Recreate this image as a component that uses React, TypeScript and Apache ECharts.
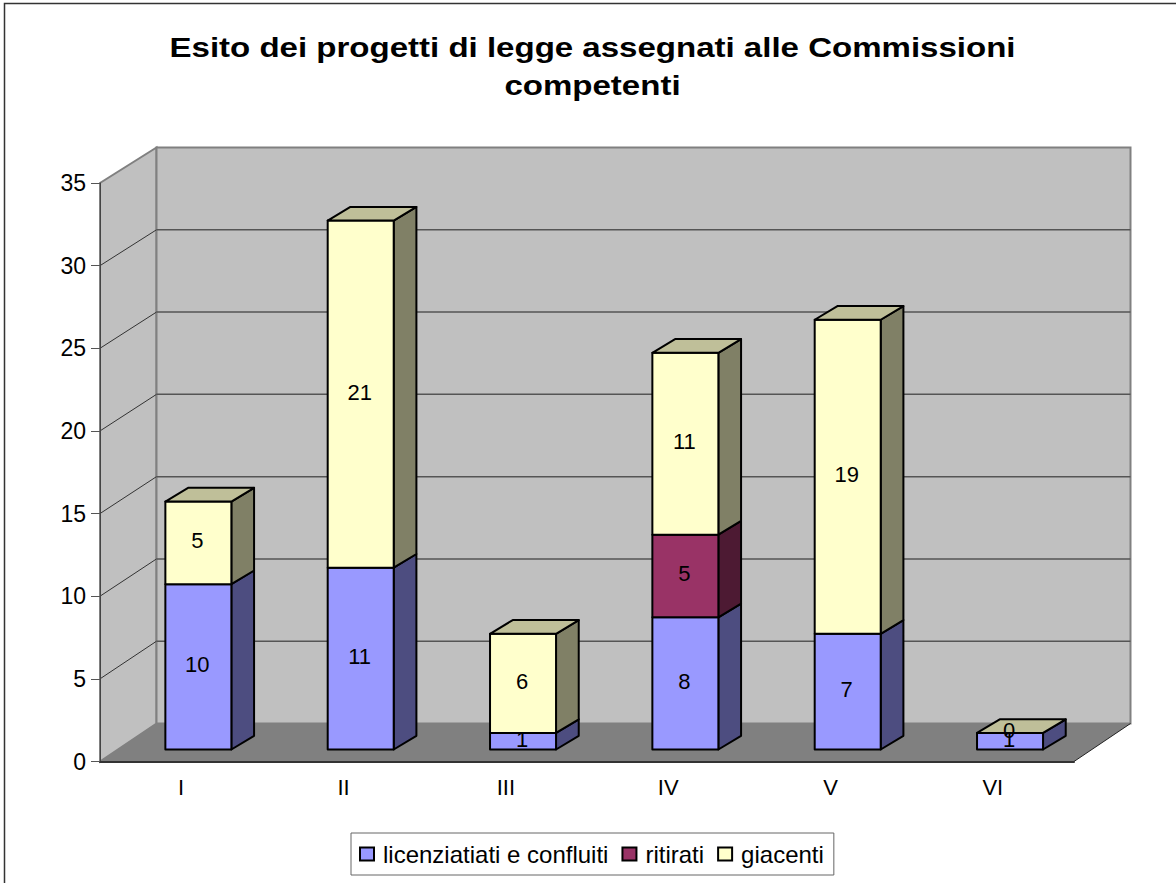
import React, { useEffect, useRef } from "react";
import * as echarts from "echarts";

const categories = ["I", "II", "III", "IV", "V", "VI"];
const licenziati = [10, 11, 1, 8, 7, 1];
const ritirati = [0, 0, 0, 5, 0, 0];
const giacenti = [5, 21, 6, 11, 19, 0];
const yTicks = [0, 5, 10, 15, 20, 25, 30, 35];
const titleText = "Esito dei progetti di legge assegnati alle Commissioni\ncompetenti";
const FONT = "'Liberation Sans', Arial, sans-serif";

// 3D projection (pixels)
const WALL_DX = 56.5;
const wallDy = (v: number) => -35.5 - ((35 - v) / 35) * 2.5;
const BAR_OX = 17.2, BAR_OY = -12;
const BAR_DX = 22.7, BAR_DY = -13.7;
const BAR_RATIO = 0.4066;

type Row = [number, number, number, number];
const stackRows = (vals: number[], bases: number[]): Row[] =>
  vals.map((v, i) => [i, bases[i], bases[i] + v, v]);
const baseA = categories.map(() => 0);
const baseB = licenziati.slice();
const baseC = licenziati.map((v, i) => v + ritirati[i]);

function face(points: number[][], fill: string) {
  return {
    type: "polygon",
    shape: { points },
    style: { fill, stroke: "#000", lineWidth: 2, lineJoin: "round" },
  };
}

function barRenderer(front: string, side: string, topColor: string | null, showZero: boolean) {
  return (params: any, api: any) => {
    const idx = api.value(0), base = api.value(1), top = api.value(2), val = api.value(3);
    const pb = api.coord([idx, base]);
    const pt = api.coord([idx, top]);
    const w = api.size([1, 0])[0] * BAR_RATIO;
    const l = pb[0] + BAR_OX - w / 2, r = l + w;
    const yb = pb[1] + BAR_OY, yt = pt[1] + BAR_OY;
    const children: any[] = [];
    if (val > 0) {
      children.push(face([[r, yb], [r + BAR_DX, yb + BAR_DY], [r + BAR_DX, yt + BAR_DY], [r, yt]], side));
      children.push(face([[l, yb], [r, yb], [r, yt], [l, yt]], front));
    }
    if (topColor) {
      children.push(face([[l, yt], [r, yt], [r + BAR_DX, yt + BAR_DY], [l + BAR_DX, yt + BAR_DY]], topColor));
    }
    if (val > 0 || showZero) {
      children.push({
        type: "text",
        style: {
          text: String(val),
          x: (l + r) / 2 - 1,
          y: (yb + yt) / 2 - 2,
          align: "center",
          verticalAlign: "middle",
          fontSize: 22,
          fontFamily: FONT,
          fill: "#000",
        },
      });
    }
    return { type: "group", children };
  };
}

function wallRenderer(params: any, api: any) {
  const half = api.size([1, 0])[0] / 2;
  const x0 = api.coord([0, 0])[0] - half;
  const x1 = api.coord([categories.length - 1, 0])[0] + half;
  const y0 = api.coord([0, 0])[1];
  const topV = yTicks[yTicks.length - 1];
  const yTop = api.coord([0, topV])[1];
  const bx0 = x0 + WALL_DX, bx1 = x1 + WALL_DX;
  const by0 = y0 + wallDy(0), byTop = yTop + wallDy(topV);
  const children: any[] = [
    { type: "polygon", shape: { points: [[x0, y0], [bx0, by0], [bx0, byTop], [x0, yTop]] },
      style: { fill: "#C0C0C0", stroke: "#808080", lineWidth: 2 } },
    { type: "polygon", shape: { points: [[bx0, by0], [bx1, by0], [bx1, byTop], [bx0, byTop]] },
      style: { fill: "#C0C0C0", stroke: "#808080", lineWidth: 2 } },
    { type: "polygon", shape: { points: [[x0, y0], [x1, y0], [bx1, by0], [bx0, by0]] },
      style: { fill: "#808080", stroke: "none" } },
    { type: "line", shape: { x1: x1, y1: y0, x2: bx1, y2: by0 }, style: { stroke: "#222", lineWidth: 1 } },
  ];
  yTicks.slice(1, -1).forEach((t) => {
    const y = api.coord([0, t])[1];
    const by = y + wallDy(t);
    children.push({ type: "line", shape: { x1: x0, y1: y, x2: bx0, y2: by }, style: { stroke: "#333", lineWidth: 1 } });
    children.push({ type: "line", shape: { x1: bx0, y1: by, x2: bx1, y2: by }, style: { stroke: "#555", lineWidth: 1.5 } });
  });
  return { type: "group", children };
}

export default function App() {
  const ref = useRef<HTMLDivElement>(null);
  useEffect(() => {
    document.body.style.margin = "0";
    const chart = echarts.init(ref.current!, null, { renderer: "svg" });
    chart.setOption({
      animation: false,
      backgroundColor: "#fff",
      graphic: [
        { type: "polyline", shape: { points: [[4.5, 883], [4.5, 3.5], [1176, 3.5]] }, style: { fill: "none", stroke: "#333", lineWidth: 1.5 } },
        {
          type: "text",
          x: 592.5,
          y: 28,
          scaleX: 1.18,
          style: {
            text: titleText,
            align: "center",
            verticalAlign: "top",
            fontFamily: FONT,
            fontWeight: "bold",
            fontSize: 28,
            lineHeight: 38,
            fill: "#000",
          },
        },
      ],
      grid: { left: 100, right: 102, top: 183, bottom: 121.5, containLabel: false },
      xAxis: {
        type: "category",
        data: categories,
        z: 5,
        axisLine: { lineStyle: { color: "#333", width: 2 } },
        axisTick: { length: 8, lineStyle: { color: "#444" } },
        axisLabel: { fontFamily: FONT, fontSize: 22, color: "#000", margin: 15 },
      },
      yAxis: {
        type: "value",
        min: 0,
        max: 35,
        interval: 5,
        z: 5,
        splitLine: { show: false },
        axisLine: { show: true, lineStyle: { color: "#444", width: 1 } },
        axisTick: { show: true, length: 9, lineStyle: { color: "#555" } },
        axisLabel: { fontFamily: FONT, fontSize: 23, color: "#000", margin: 14 },
      },
      legend: {
        data: [
          { name: "licenziatiati e confluiti", textStyle: { padding: [0, 1, 0, 4] } },
          { name: "ritirati", textStyle: { padding: [0, 0, 0, 4] } },
          { name: "giacenti", textStyle: { padding: [0, 0, 0, 4] } },
        ],
        left: 351,
        top: 833,
        orient: "horizontal",
        icon: "rect",
        itemWidth: 14,
        itemHeight: 13,
        itemGap: 13,
        padding: [9, 10, 9, 8],
        borderColor: "#666",
        borderWidth: 1,
        backgroundColor: "#fff",
        textStyle: { fontFamily: FONT, fontSize: 24, color: "#000" },
      },
      series: [
        { type: "custom", name: "walls", z: 1, silent: true, renderItem: wallRenderer, data: [[0, 0]], encode: { x: 0, y: 1 } },
        {
          type: "custom", name: "licenziatiati e confluiti", z: 2,
          itemStyle: { color: "#9999FF", borderColor: "#000", borderWidth: 2 },
          renderItem: barRenderer("#9999FF", "#4D4D80", null, false),
          data: stackRows(licenziati, baseA), encode: { x: 0, y: 2 },
        },
        {
          type: "custom", name: "ritirati", z: 3,
          itemStyle: { color: "#993366", borderColor: "#000", borderWidth: 2 },
          renderItem: barRenderer("#993366", "#4D1A33", null, false),
          data: stackRows(ritirati, baseB), encode: { x: 0, y: 2 },
        },
        {
          type: "custom", name: "giacenti", z: 4,
          itemStyle: { color: "#FFFFCC", borderColor: "#000", borderWidth: 2 },
          renderItem: barRenderer("#FFFFCC", "#808066", "#BFBF99", true),
          data: stackRows(giacenti, baseC), encode: { x: 0, y: 2 },
        },
      ],
    });
    return () => chart.dispose();
  }, []);
  return <div ref={ref} style={{ width: 1176, height: 883 }} />;
}
